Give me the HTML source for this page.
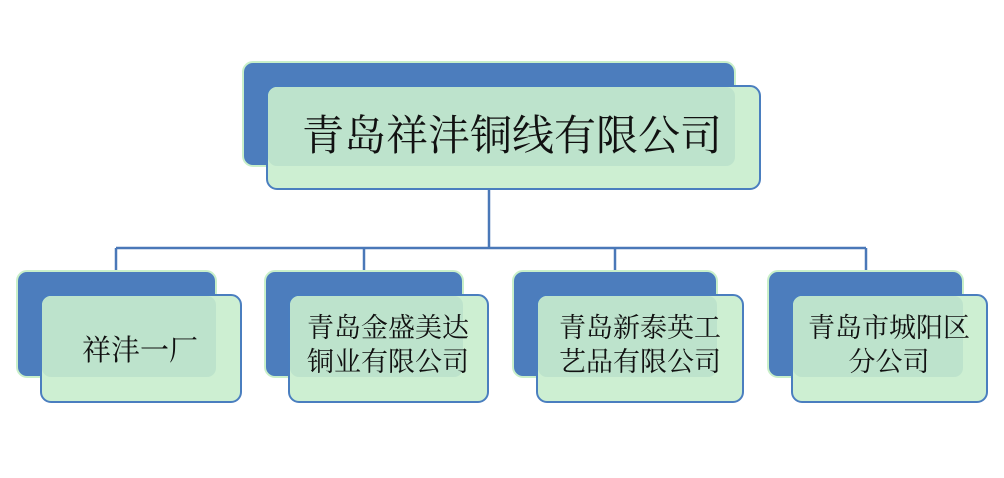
<!DOCTYPE html>
<html><head><meta charset="utf-8"><style>
body{margin:0;background:#fff}
text{font-family:"Liberation Serif","Noto Serif CJK SC",serif;fill:#111}
</style></head><body>
<svg width="1004" height="473" xmlns="http://www.w3.org/2000/svg">
<g stroke="#4a78b8" stroke-width="2.5" fill="none">
<line x1="489" y1="170" x2="489" y2="248"/>
<line x1="116" y1="248" x2="866" y2="248"/>
<line x1="116" y1="248" x2="116" y2="272"/>
<line x1="364" y1="248" x2="364" y2="272"/>
<line x1="615" y1="248" x2="615" y2="272"/>
<line x1="866" y1="248" x2="866" y2="272"/>
</g>
<rect x="243" y="62" width="492" height="104" rx="10" fill="#4c7dbd" stroke="#c9efc9" stroke-width="2"/>
<rect x="267" y="86" width="493" height="103" rx="10" fill="#cdefd2" stroke="#4a7ebf" stroke-width="2"/>
<rect x="268" y="87" width="467" height="79" rx="9" fill="#bde3cc"/>
<text x="512" y="150" font-size="42" text-anchor="middle">青岛祥沣铜线有限公司</text>
<g>
<rect x="17" y="271" width="199" height="106" rx="10" fill="#4c7dbd" stroke="#c9efc9" stroke-width="2"/>
<rect x="41" y="295" width="200" height="107" rx="10" fill="#cdefd2" stroke="#4a7ebf" stroke-width="2"/>
<rect x="42" y="296" width="174" height="81" rx="9" fill="#bde3cc"/>
<text x="140" y="360" font-size="29" text-anchor="middle">祥沣一厂</text>

<rect x="265" y="271" width="198" height="106" rx="10" fill="#4c7dbd" stroke="#c9efc9" stroke-width="2"/>
<rect x="289" y="295" width="199" height="107" rx="10" fill="#cdefd2" stroke="#4a7ebf" stroke-width="2"/>
<rect x="290" y="296" width="173" height="81" rx="9" fill="#bde3cc"/>
<text x="388" y="337" font-size="27" text-anchor="middle">青岛金盛美达</text>
<text x="388" y="371" font-size="27" text-anchor="middle">铜业有限公司</text>

<rect x="513" y="271" width="204" height="106" rx="10" fill="#4c7dbd" stroke="#c9efc9" stroke-width="2"/>
<rect x="537" y="295" width="206" height="107" rx="10" fill="#cdefd2" stroke="#4a7ebf" stroke-width="2"/>
<rect x="538" y="296" width="179" height="81" rx="9" fill="#bde3cc"/>
<text x="640" y="337" font-size="27" text-anchor="middle">青岛新泰英工</text>
<text x="640" y="371" font-size="27" text-anchor="middle">艺品有限公司</text>

<rect x="768" y="271" width="195" height="106" rx="10" fill="#4c7dbd" stroke="#c9efc9" stroke-width="2"/>
<rect x="792" y="295" width="195" height="107" rx="10" fill="#cdefd2" stroke="#4a7ebf" stroke-width="2"/>
<rect x="793" y="296" width="170" height="81" rx="9" fill="#bde3cc"/>
<text x="889" y="337" font-size="27" text-anchor="middle">青岛市城阳区</text>
<text x="889" y="371" font-size="27" text-anchor="middle">分公司</text>
</g>
</svg>
</body></html>
